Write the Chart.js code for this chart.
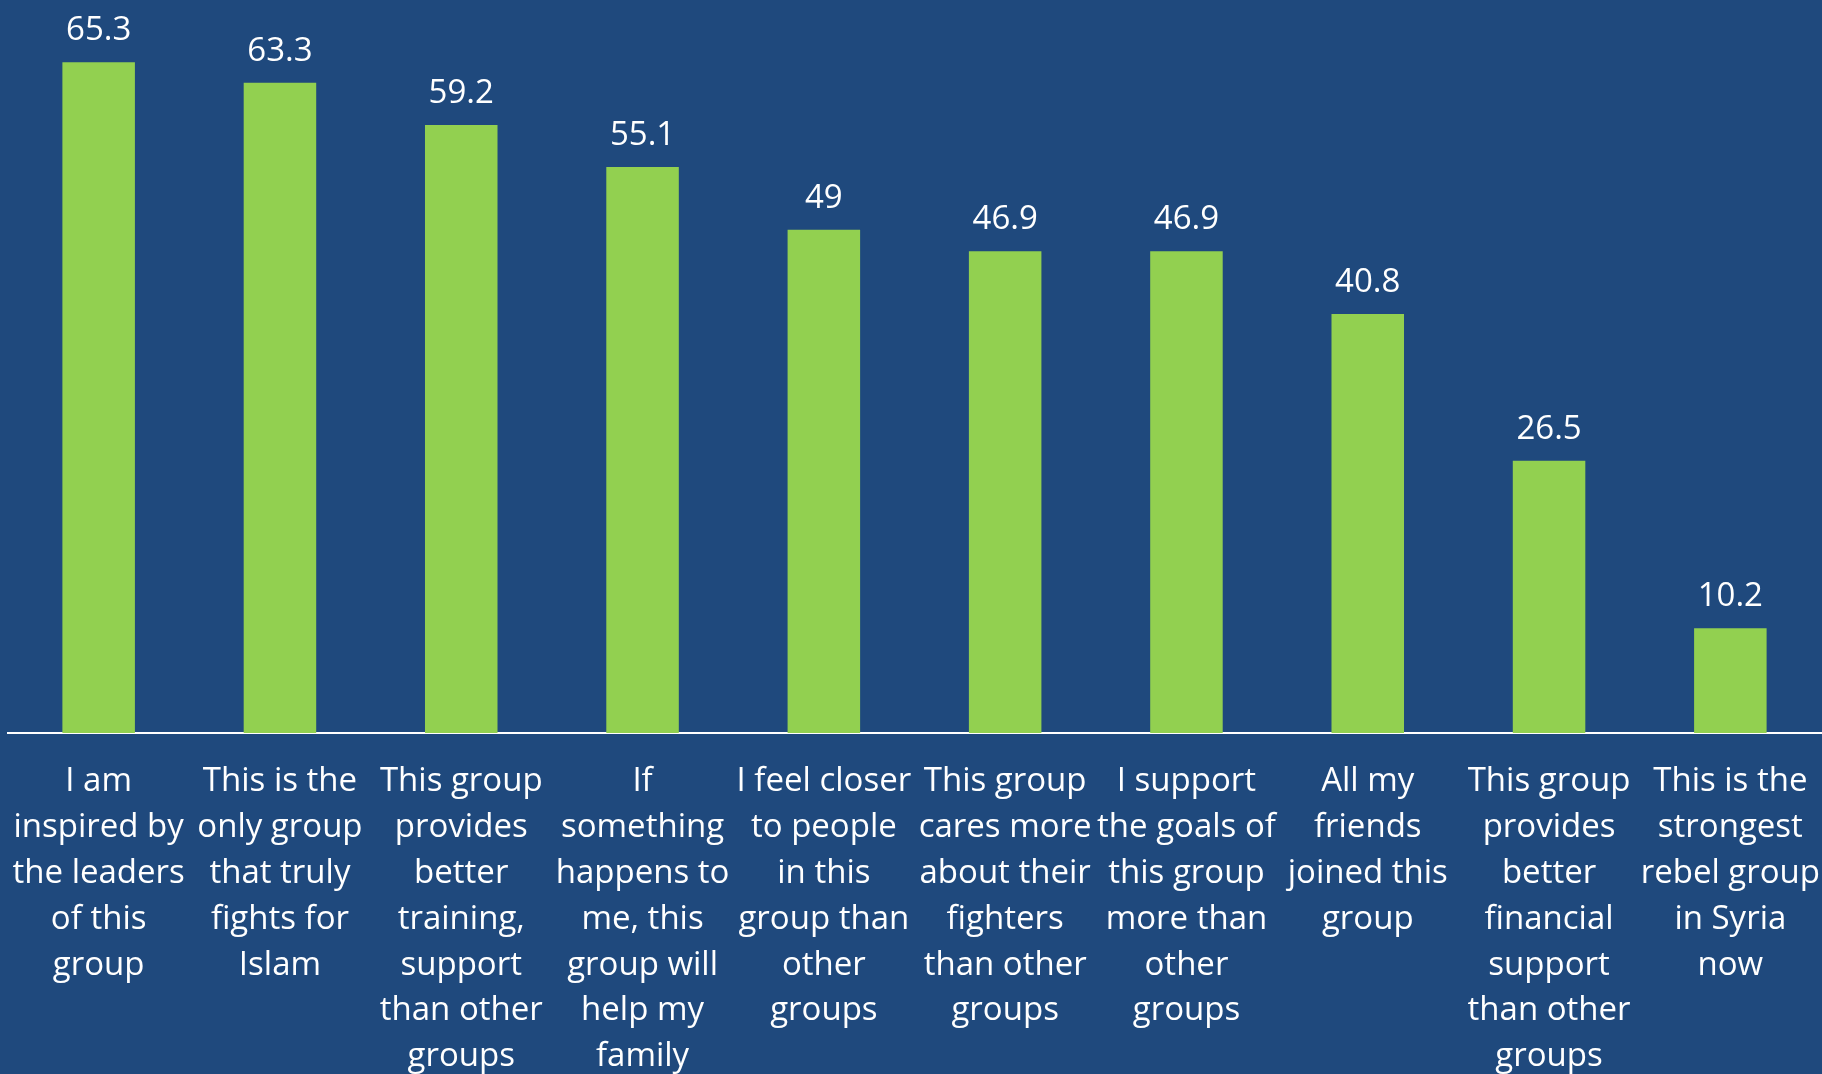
<!DOCTYPE html>
<html>
<head>
<meta charset="utf-8">
<script src="https://cdn.jsdelivr.net/npm/chart.js@4.4.1/dist/chart.umd.min.js"></script>
<style>
html,body{margin:0;padding:0;background:#1F497D;}
#wrap{width:1822px;height:1074px;position:relative;}
</style>
</head>
<body>
<div id="wrap"><canvas id="c" width="1822" height="1074"></canvas></div>
<script>
const categories = [
  ["I am","inspired by","the leaders","of this","group"],
  ["This is the","only group","that truly","fights for","Islam"],
  ["This group","provides","better","training,","support","than other","groups"],
  ["If","something","happens to","me, this","group will","help my","family"],
  ["I feel closer","to people","in this","group than","other","groups"],
  ["This group","cares more","about their","fighters","than other","groups"],
  ["I support","the goals of","this group","more than","other","groups"],
  ["All my","friends","joined this","group"],
  ["This group","provides","better","financial","support","than other","groups"],
  ["This is the","strongest","rebel group","in Syria","now"]
];
const values = [65.3, 63.3, 59.2, 55.1, 49, 46.9, 46.9, 40.8, 26.5, 10.2];
const valueLabels = ["65.3","63.3","59.2","55.1","49","46.9","46.9","40.8","26.5","10.2"];

const FONT = "'Open Sans', Lato, sans-serif";

const bgPlugin = {
  id: 'bg',
  beforeDraw(chart) {
    const ctx = chart.ctx;
    ctx.save();
    ctx.fillStyle = '#1F497D';
    ctx.fillRect(0, 0, chart.width, chart.height);
    ctx.restore();
  }
};
const labelPlugin = {
  id: 'vals',
  afterDatasetsDraw(chart) {
    const ctx = chart.ctx;
    const meta = chart.getDatasetMeta(0);
    ctx.save();
    ctx.fillStyle = '#FFFFFF';
    ctx.font = "33px " + FONT;
    ctx.textAlign = 'center';
    ctx.textBaseline = 'alphabetic';
    meta.data.forEach((bar, i) => {
      ctx.fillText(valueLabels[i], bar.x, bar.y - 22);
    });
    ctx.restore();
  }
};

new Chart(document.getElementById('c'), {
  type: 'bar',
  data: {
    labels: categories,
    datasets: [{
      data: values,
      backgroundColor: '#92D050',
      borderWidth: 0,
      barPercentage: 0.4,
      categoryPercentage: 1.0
    }]
  },
  options: {
    responsive: false,
    animation: false,
    devicePixelRatio: 1,
    layout: { padding: { top: 14, left: 8, right: 1, bottom: 0 } },
    plugins: { legend: { display: false }, tooltip: { enabled: false } },
    scales: {
      x: {
        grid: { display: false, drawTicks: false },
        border: { display: true, color: '#FFFFFF', width: 2 },
        ticks: {
          color: '#FFFFFF',
          font: { family: FONT, size: 33, lineHeight: 1.388 },
          padding: 26,
          maxRotation: 0,
          autoSkip: false
        },
        afterFit(scale) { scale.height = 341; scale.paddingLeft = 0; scale.paddingRight = 0; }
      },
      y: {
        display: false,
        min: 0,
        max: 70
      }
    }
  },
  plugins: [bgPlugin, labelPlugin]
});
</script>
</body>
</html>
